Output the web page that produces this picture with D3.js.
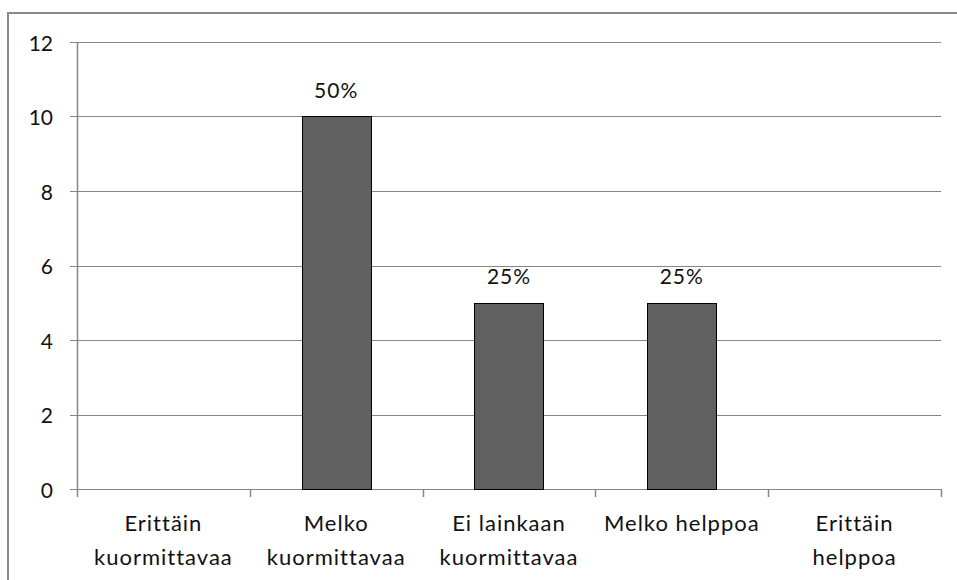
<!DOCTYPE html>
<html lang="fi">
<head>
<meta charset="UTF-8">
<title>Kuormittavuus</title>
<script src="https://d3js.org/d3.v7.min.js"></script>
<style>
  body { margin: 0; background: #fff; }
  text { font-family: Lato, "Liberation Sans", sans-serif; fill: #111; }
</style>
</head>
<body>
<script>
    const width = 957;
    const height = 580;

    // data
    const categories = [
        ["Erittäin", "kuormittavaa"],
        ["Melko", "kuormittavaa"],
        ["Ei lainkaan", "kuormittavaa"],
        ["Melko helppoa"],
        ["Erittäin", "helppoa"]
    ];
    const values = [0, 10, 5, 5, 0];
    const pctLabels = ["", "50%", "25%", "25%", ""];
    const yTicks = [0, 2, 4, 6, 8, 10, 12];

    const plotL = 77, plotR = 941, plotT = 42, plotB = 489;
    const grey = "#868686";

    const rows = values.map((v, i) => ({i, v, label: pctLabels[i]}));

    const svg = d3.select("body").append("svg")
        .attr("width", width).attr("height", height);

    // outer frame, runs off the right and bottom edges
    svg.append("rect")
        .attr("x", 8).attr("y", 13)
        .attr("width", width + 20).attr("height", height + 20)
        .attr("fill", "none").attr("stroke", "#8a8a8a").attr("stroke-width", 2);

    const x = d3.scaleBand().domain(d3.range(categories.length)).range([plotL, plotR]).padding(0);
    const y = d3.scaleLinear().domain([0, 12]).range([plotB, plotT]);

    // gridlines + y ticks
    svg.append("g").selectAll("line").data(yTicks).join("line")
        .attr("x1", plotL - 7).attr("x2", plotR)
        .attr("y1", d => Math.round(y(d)) + 0.5).attr("y2", d => Math.round(y(d)) + 0.5)
        .attr("stroke", grey).attr("stroke-width", 1.2);

    svg.append("g").selectAll("text").data(yTicks).join("text")
        .attr("x", 53).attr("y", d => y(d))
        .attr("text-anchor", "end").attr("dominant-baseline", "central")
        .attr("font-size", 21)
        .text(d => d);

    // y axis line
    svg.append("line")
        .attr("x1", plotL + 0.5).attr("x2", plotL + 0.5)
        .attr("y1", plotT).attr("y2", plotB)
        .attr("stroke", grey).attr("stroke-width", 1.5);

    // x ticks at band edges
    const edges = d3.range(categories.length).map(i => x(i)).concat([plotR]);
    svg.append("g").selectAll("line").data(edges).join("line")
        .attr("x1", d => Math.round(d) + 0.5).attr("x2", d => Math.round(d) + 0.5)
        .attr("y1", plotB).attr("y2", plotB + 8)
        .attr("stroke", grey).attr("stroke-width", 1.5);

    // bars
    const bw = x.bandwidth() * 0.4;
    svg.append("g").selectAll("rect").data(rows.filter(d => d.v > 0)).join("rect")
        .attr("x", d => Math.round(x(d.i) + (x.bandwidth() - bw) / 2) + 0.5)
        .attr("y", d => Math.round(y(d.v)) + 0.5)
        .attr("width", Math.round(bw))
        .attr("height", d => Math.round(y(0)) - Math.round(y(d.v)))
        .attr("fill", "#606060").attr("stroke", "#000").attr("stroke-width", 1);

    // percentage labels
    svg.append("g").selectAll("text").data(rows.filter(d => d.label)).join("text")
        .attr("x", d => x(d.i) + x.bandwidth() / 2)
        .attr("y", d => y(d.v) - 19)
        .attr("text-anchor", "middle")
        .attr("font-size", 21)
        .attr("letter-spacing", 1)
        .text(d => d.label);

    // category labels
    const cat = svg.append("g").selectAll("text").data(categories).join("text")
        .attr("text-anchor", "middle")
        .attr("font-size", 22)
        .attr("letter-spacing", 1);
    cat.selectAll("tspan").data((d, i) => d.map(s => ({s, i}))).join("tspan")
        .attr("x", d => x(d.i) + x.bandwidth() / 2)
        .attr("y", (d, j) => 531 + j * 34)
        .text(d => d.s);
</script>
</body>
</html>
